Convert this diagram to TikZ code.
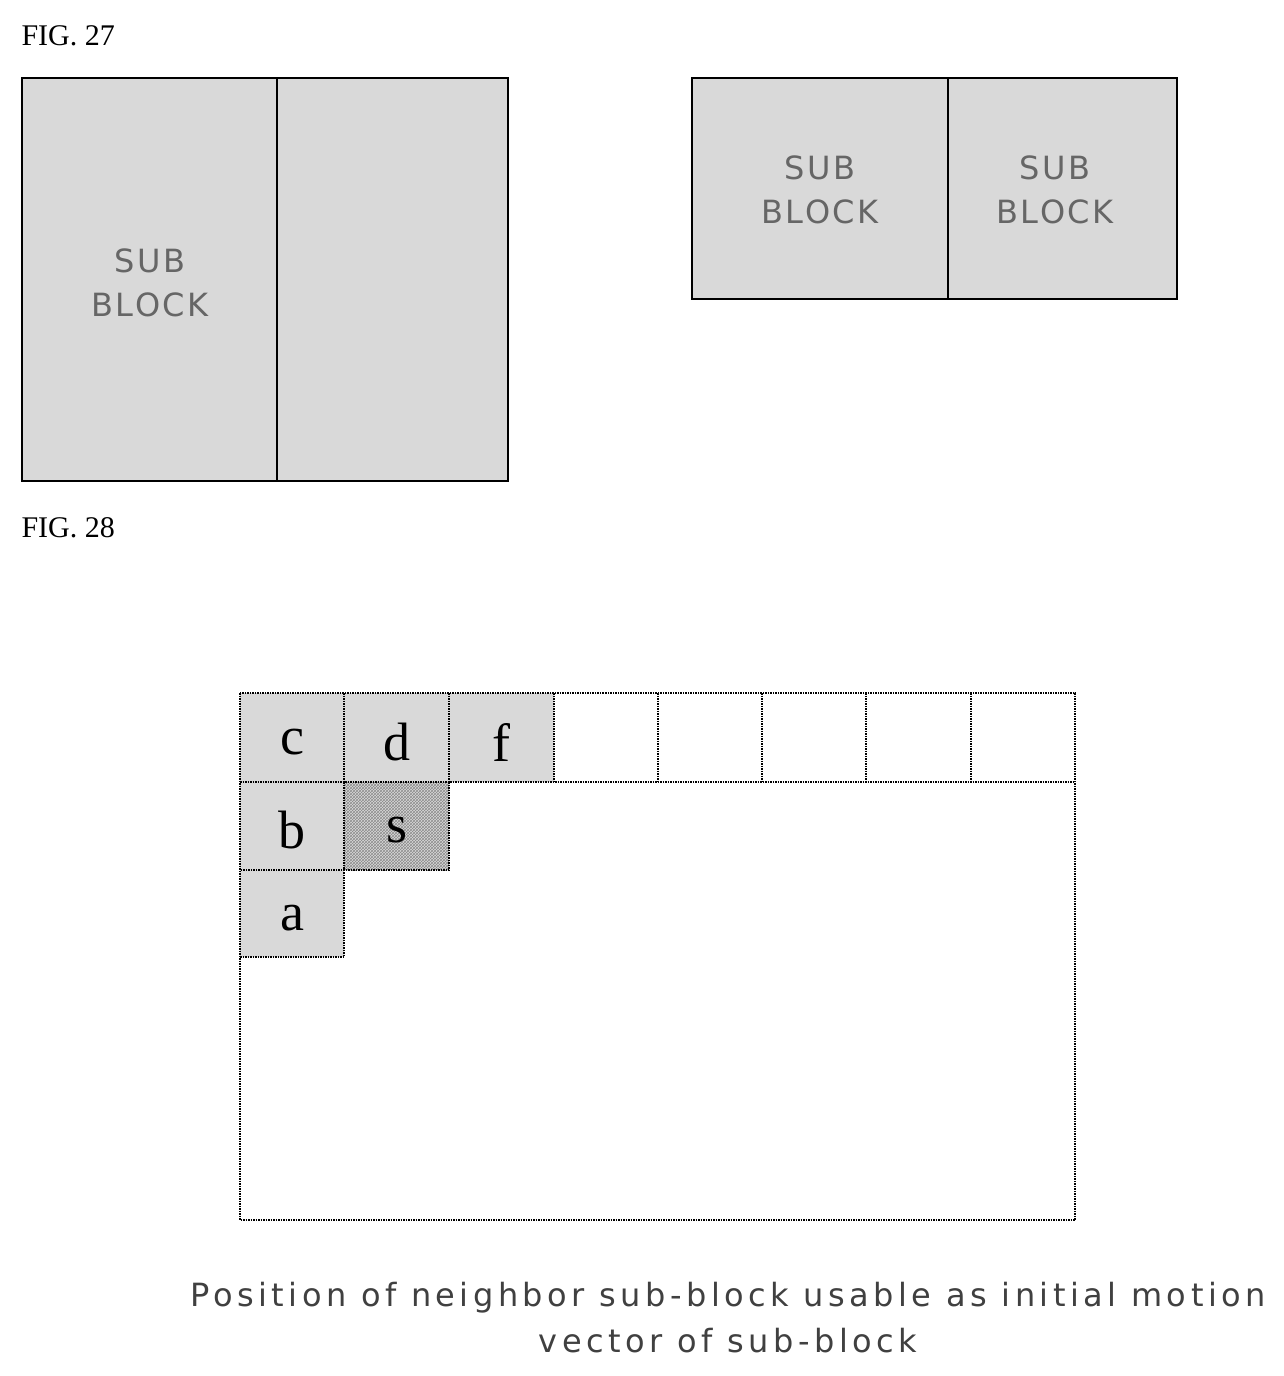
\documentclass[tikz,border=0pt]{standalone}
\usepackage{fontspec}
\setmainfont{Liberation Serif}
\newfontfamily\capfont[LetterSpace=14]{DejaVu Sans}
\newfontfamily\sbfont[LetterSpace=8]{DejaVu Sans}
\usetikzlibrary{patterns}
\tikzset{
  dotfill/.style={fill=black!15},
  blk/.style={draw=black,line width=2.5pt},
  cell/.style={draw=black,densely dotted,line width=1.5pt},
  sbtext/.style={align=center,font=\sbfont\fontsize{32}{44}\selectfont,text=black!60},
  letter/.style={font=\fontsize{54}{54}\selectfont},
  figlab/.style={anchor=west,font=\fontsize{30}{30}\selectfont}
}
\begin{document}
\begin{tikzpicture}[x=1pt,y=-1pt]
\useasboundingbox (0,0) rectangle (1284,1376);
%% FIG. 27
\node[figlab] (fig_a) at (18,36) {FIG. 27};
\fill[dotfill] (22,78) rectangle (508,481);
\draw[blk] (22,78) rectangle (508,481);
\draw[blk] (277,78) -- (277,481);
\node[sbtext] (sb_0) at (150,283) {SUB\\BLOCK};
\fill[dotfill] (692,78) rectangle (1177,299);
\draw[blk] (692,78) rectangle (1177,299);
\draw[blk] (948,78) -- (948,299);
\node[sbtext] (sb_1) at (820,190) {SUB\\BLOCK};
\node[sbtext] (sb_2) at (1055,190) {SUB\\BLOCK};
%% FIG. 28
\node[figlab] (fig_b) at (18,528) {FIG. 28};
\fill[dotfill] (240,693) rectangle (554,782);
\fill[dotfill] (240,782) rectangle (449,870);
\fill[dotfill] (240,870) rectangle (344,957);
\fill[pattern=crosshatch,pattern color=black!45] (344,782) rectangle (449,870);
\draw[cell] (240,693) rectangle (1075,1220);
\draw[cell] (240,782) -- (1075,782);
\foreach \x in {344,449,554,658,762,866,971}
  \draw[cell] (\x,693) -- (\x,782);
\draw[cell] (344,782) -- (344,957) -- (240,957);
\draw[cell] (449,782) -- (449,870) -- (240,870);
\node[letter] (n_c) at (292,742) {c};
\node[letter] (n_d) at (397,742) {d};
\node[letter] (n_f) at (501,742) {f};
\node[letter] (n_b) at (292,830) {b};
\node[letter] (n_s) at (397,830) {s};
\node[letter] (n_a) at (292,918) {a};
\node[align=center,font=\capfont\fontsize{32}{46}\selectfont,text=black!75] (cap) at (728,1318)
  {Position of neighbor sub-block usable as initial motion\\vector of sub-block};
\end{tikzpicture}
\end{document}
